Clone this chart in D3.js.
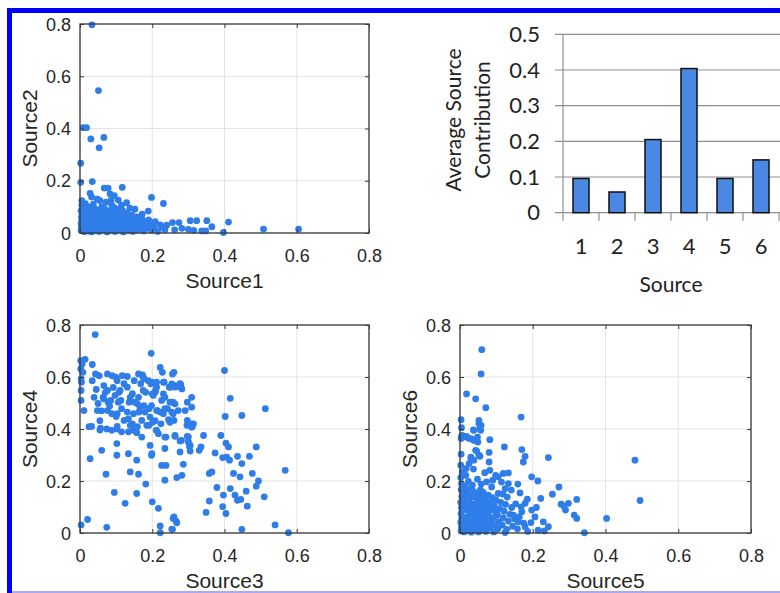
<!DOCTYPE html>
<html>
<head>
<meta charset="utf-8">
<script src="https://cdn.jsdelivr.net/npm/d3@7"></script>
<style>
  html, body { margin: 0; padding: 0; background: #fff; }
  svg { display: block; }
</style>
</head>
<body>
<svg id="fig" width="780" height="593"></svg>
<script>
// ---- data -------------------------------------------------------------
const scatterTicks = [0, 0.2, 0.4, 0.6, 0.8];
const scatterTickLabels = ["0", "0.2", "0.4", "0.6", "0.8"];

const barSources = ["1", "2", "3", "4", "5", "6"];
const barValues = [0.096, 0.058, 0.205, 0.404, 0.096, 0.148];
const barTicks = [0, 0.1, 0.2, 0.3, 0.4, 0.5];
const barTickLabels = ["0", "0.1", "0.2", "0.3", "0.4", "0.5"];

// sample pairs [Source1, Source2]
const pairs12 = [
  [0.033,0.797],[0.051,0.545],[0.009,0.403],[0.018,0.403],[0.030,0.360],[0.066,0.366],[0.053,0.326],
  [0.002,0.267],[0.002,0.194],[0.034,0.197],[0.067,0.172],[0.078,0.172],[0.117,0.175],
  [0.028,0.152],[0.032,0.138],[0.055,0.124],[0.095,0.143],[0.106,0.126],[0.129,0.116],
  [0.005,0.124],[0.005,0.107],[0.198,0.136],[0.231,0.113],[0.152,0.091],[0.189,0.084],
  [0.086,0.126],[0.088,0.107],[0.115,0.107],
  [0.256,0.040],[0.274,0.040],[0.305,0.047],[0.323,0.047],[0.351,0.047],[0.411,0.042],
  [0.282,0.018],[0.300,0.014],[0.337,0.008],[0.348,0.008],[0.365,0.024],[0.397,0.002],
  [0.508,0.015],[0.605,0.015],
  [0.208,0.043],[0.222,0.031],[0.235,0.012],[0.171,0.056],[0.180,0.043],[0.162,0.031],[0.185,0.018],[0.198,0.011],
  [0.003,0.010],[0.004,0.022],[0.003,0.036],[0.005,0.048],[0.004,0.060],[0.006,0.072],[0.003,0.085],[0.007,0.094],
  [0.012,0.005],[0.014,0.018],[0.011,0.030],[0.016,0.042],[0.013,0.055],[0.017,0.066],[0.012,0.080],[0.018,0.090],[0.015,0.112],
  [0.022,0.008],[0.024,0.020],[0.021,0.034],[0.026,0.046],[0.023,0.058],[0.027,0.070],[0.025,0.084],[0.029,0.100],
  [0.032,0.004],[0.034,0.016],[0.031,0.028],[0.036,0.040],[0.033,0.052],[0.038,0.064],[0.035,0.078],[0.040,0.092],[0.037,0.110],
  [0.043,0.010],[0.045,0.024],[0.042,0.036],[0.047,0.050],[0.044,0.062],[0.049,0.074],[0.046,0.088],[0.048,0.130],
  [0.053,0.006],[0.055,0.018],[0.052,0.032],[0.057,0.044],[0.054,0.056],[0.059,0.068],[0.056,0.082],[0.060,0.100],
  [0.064,0.012],[0.066,0.026],[0.063,0.038],[0.068,0.052],[0.065,0.064],[0.070,0.078],[0.067,0.094],[0.072,0.118],
  [0.075,0.004],[0.077,0.016],[0.074,0.030],[0.079,0.042],[0.076,0.056],[0.081,0.070],[0.078,0.086],[0.083,0.150],
  [0.086,0.010],[0.088,0.024],[0.085,0.036],[0.090,0.050],[0.087,0.062],[0.092,0.080],[0.094,0.098],
  [0.097,0.006],[0.099,0.018],[0.096,0.032],[0.101,0.044],[0.098,0.058],[0.103,0.072],[0.105,0.090],
  [0.108,0.012],[0.110,0.026],[0.107,0.040],[0.112,0.054],[0.114,0.068],[0.118,0.086],
  [0.120,0.004],[0.122,0.018],[0.119,0.032],[0.124,0.046],[0.126,0.060],[0.130,0.076],
  [0.132,0.010],[0.134,0.024],[0.137,0.038],[0.140,0.052],[0.144,0.068],[0.138,0.095],
  [0.146,0.006],[0.148,0.020],[0.151,0.034],[0.155,0.048],[0.158,0.062],
  [0.160,0.012],[0.164,0.024],[0.168,0.040],[0.172,0.072],[0.176,0.008],[0.180,0.028],
  [0.190,0.050],[0.195,0.030],[0.205,0.020],[0.215,0.006],[0.228,0.022],[0.240,0.030],[0.262,0.012],[0.315,0.010]
];

// sample pairs [Source3, Source4]
const pairs34 = [
  [0.042,0.763],[0.197,0.691],[0.400,0.625],
  [0.002,0.663],[0.006,0.650],[0.014,0.668],[0.002,0.631],[0.008,0.618],[0.003,0.593],[0.004,0.580],[0.003,0.548],[0.003,0.510],[0.034,0.648],[0.011,0.471],
  [0.032,0.410],[0.055,0.396],[0.074,0.400],[0.088,0.395],[0.102,0.400],[0.115,0.389],[0.134,0.389],[0.148,0.395],
  [0.028,0.286],[0.060,0.318],[0.102,0.344],[0.102,0.299],[0.134,0.305],[0.157,0.280],[0.072,0.226],[0.139,0.235],[0.162,0.226],
  [0.182,0.188],[0.095,0.156],[0.157,0.152],[0.125,0.114],[0.200,0.120],[0.217,0.095],
  [0.003,0.031],[0.021,0.052],[0.074,0.022],[0.222,0.027],[0.222,0.001],[0.256,0.014],[0.258,0.056],[0.268,0.039],
  [0.448,0.014],[0.540,0.031],[0.577,0.001],[0.568,0.241],[0.513,0.478],[0.416,0.518],[0.402,0.448],[0.448,0.452],
  [0.390,0.375],[0.404,0.346],[0.411,0.331],[0.406,0.292],[0.414,0.280],[0.395,0.290],[0.436,0.295],[0.469,0.295],
  [0.488,0.331],[0.448,0.267],[0.358,0.229],[0.365,0.235],[0.425,0.229],[0.443,0.216],[0.477,0.229],[0.494,0.200],
  [0.488,0.180],[0.379,0.175],[0.416,0.171],[0.397,0.146],[0.429,0.146],[0.436,0.126],[0.445,0.129],[0.460,0.161],
  [0.510,0.139],[0.463,0.103],[0.358,0.123],[0.395,0.101],[0.404,0.075],[0.349,0.079],
  [0.254,0.015],[0.260,0.062],[0.266,0.046],[0.235,0.203],[0.268,0.213],[0.282,0.222],[0.226,0.260],[0.238,0.260],
  [0.286,0.264],[0.199,0.305],[0.235,0.325],[0.277,0.312],[0.305,0.315],[0.330,0.318],[0.335,0.331],[0.374,0.308],
  [0.277,0.354],[0.297,0.372],[0.300,0.350],[0.303,0.333],[0.342,0.375],[0.263,0.375],[0.238,0.369],[0.211,0.395],
  [0.217,0.382],[0.296,0.414],[0.309,0.420],[0.201,0.426],[0.208,0.432],[0.249,0.426],[0.245,0.436],[0.309,0.522],
  [0.297,0.503],[0.309,0.484],[0.291,0.471],[0.272,0.471],[0.249,0.561],[0.263,0.567],[0.279,0.571],[0.282,0.554],
  [0.231,0.535],[0.235,0.522],[0.257,0.503],[0.263,0.497],[0.208,0.541],[0.212,0.561],[0.199,0.580],[0.222,0.465],
  [0.231,0.459],[0.254,0.465],
  [0.222,0.637],[0.228,0.618],[0.256,0.612],[0.260,0.618],[0.173,0.608],[0.177,0.593],[0.043,0.612],[0.053,0.605],
  [0.076,0.612],[0.089,0.605],[0.099,0.599],[0.117,0.605],[0.131,0.602],[0.150,0.586],[0.034,0.586],[0.066,0.567],
  [0.076,0.548],[0.103,0.586],[0.122,0.574],[0.131,0.561],[0.108,0.541],[0.145,0.536],[0.168,0.574],[0.196,0.574],
  [0.209,0.548],[0.182,0.541],[0.200,0.535],[0.233,0.580],[0.247,0.561],[0.279,0.561],[0.277,0.574],[0.039,0.522],
  [0.066,0.516],[0.085,0.510],[0.113,0.510],[0.136,0.503],[0.159,0.497],[0.177,0.490],[0.048,0.471],[0.076,0.471],
  [0.103,0.459],[0.131,0.465],[0.163,0.465],[0.191,0.478],[0.214,0.471],[0.242,0.478],[0.025,0.409],[0.057,0.403],
  [0.103,0.410],[0.122,0.433],[0.145,0.420],[0.159,0.409],[0.191,0.414],[0.224,0.420],[0.260,0.433],[0.297,0.433],
  [0.311,0.410],
  [0.162,0.612],[0.175,0.599],[0.189,0.586],[0.212,0.580],[0.231,0.580],[0.254,0.573],[0.263,0.561],
  [0.111,0.548],[0.139,0.522],[0.152,0.503],[0.166,0.484],[0.180,0.465],[0.194,0.446],[0.148,0.459],[0.134,0.439],
  [0.171,0.433],[0.185,0.414],[0.198,0.490],[0.212,0.471],[0.115,0.478],[0.106,0.503],[0.097,0.529],[0.078,0.503],
  [0.064,0.522],[0.088,0.459],[0.162,0.522],[0.175,0.548],[0.203,0.529],[0.226,0.510],[0.235,0.478],[0.249,0.503],
  [0.258,0.459],[0.139,0.414],[0.157,0.386],[0.171,0.369],[0.194,0.337],[0.198,0.299],[0.212,0.395],[0.235,0.369],
  [0.263,0.372],[0.281,0.356],[0.300,0.369],[0.305,0.337],[0.309,0.407],[0.314,0.420],
  [0.045,0.552],[0.050,0.498],[0.060,0.470],[0.070,0.540],[0.082,0.488],[0.092,0.560],[0.100,0.448],[0.055,0.432]
];

// sample pairs [Source5, Source6]
const pairs56 = [
  [0.060,0.705],[0.058,0.612],[0.018,0.535],[0.043,0.516],[0.071,0.482],[0.168,0.446],
  [0.003,0.436],[0.004,0.405],[0.004,0.372],[0.003,0.363],
  [0.052,0.433],[0.058,0.414],[0.055,0.401],[0.037,0.397],
  [0.018,0.372],[0.030,0.363],[0.049,0.350],[0.082,0.359],[0.122,0.331],
  [0.170,0.321],[0.179,0.295],[0.174,0.273],[0.243,0.290],[0.481,0.280],[0.495,0.125],
  [0.003,0.303],[0.030,0.292],[0.055,0.295],[0.046,0.315],[0.080,0.310],[0.080,0.273],
  [0.197,0.216],[0.214,0.200],[0.133,0.231],[0.159,0.188],[0.165,0.154],[0.272,0.177],[0.254,0.149],[0.321,0.129],
  [0.278,0.111],[0.290,0.088],[0.298,0.114],[0.314,0.069],[0.321,0.056],[0.403,0.056],[0.342,0.001],
  [0.006,0.375],[0.016,0.369],[0.025,0.363],[0.038,0.356],[0.048,0.369],[0.057,0.395],[0.052,0.420],[0.038,0.395],
  [0.043,0.318],[0.052,0.299],[0.038,0.280],
  [0.002,0.261],[0.006,0.235],[0.016,0.222],[0.030,0.286],[0.025,0.267],
  [0.222,0.133],[0.286,0.103],
  [0.082,0.241],[0.105,0.216],[0.119,0.229],[0.133,0.190],[0.124,0.171],[0.105,0.152],[0.087,0.177],[0.073,0.197],
  [0.179,0.114],[0.197,0.088],[0.206,0.062],[0.229,0.043],[0.243,0.024],[0.215,0.011],[0.179,0.024],[0.160,0.043],
  [0.147,0.069],[0.170,0.082],[0.124,0.002],[0.232,0.008],[0.186,0.006],[0.195,0.040],[0.210,0.098],[0.185,0.130],
  [0.003,0.008],[0.004,0.024],[0.002,0.041],[0.005,0.057],[0.003,0.075],[0.004,0.098],[0.002,0.118],[0.005,0.141],[0.003,0.166],[0.004,0.190],[0.002,0.213],
  [0.011,0.004],[0.014,0.020],[0.010,0.036],[0.015,0.060],[0.012,0.088],[0.016,0.108],[0.011,0.130],[0.015,0.157],[0.013,0.180],[0.017,0.248],
  [0.021,0.012],[0.024,0.030],[0.020,0.050],[0.026,0.072],[0.022,0.096],[0.025,0.120],[0.021,0.146],[0.027,0.170],[0.023,0.198],
  [0.031,0.003],[0.034,0.022],[0.030,0.044],[0.036,0.066],[0.033,0.086],[0.035,0.110],[0.031,0.137],[0.037,0.160],[0.034,0.184],[0.037,0.246],
  [0.041,0.014],[0.045,0.036],[0.042,0.058],[0.046,0.080],[0.043,0.104],[0.047,0.128],[0.044,0.152],[0.048,0.207],
  [0.051,0.004],[0.054,0.026],[0.050,0.048],[0.056,0.070],[0.053,0.094],[0.057,0.118],[0.052,0.143],[0.056,0.166],[0.058,0.188],
  [0.061,0.016],[0.065,0.038],[0.062,0.060],[0.066,0.084],[0.063,0.109],[0.067,0.134],[0.064,0.156],[0.068,0.232],
  [0.071,0.006],[0.074,0.028],[0.070,0.050],[0.076,0.074],[0.072,0.098],[0.075,0.122],[0.078,0.146],
  [0.082,0.018],[0.085,0.042],[0.081,0.064],[0.087,0.090],[0.083,0.113],[0.089,0.136],[0.090,0.203],
  [0.093,0.004],[0.096,0.030],[0.092,0.056],[0.098,0.080],[0.094,0.104],[0.099,0.126],[0.098,0.222],
  [0.104,0.016],[0.107,0.044],[0.103,0.070],[0.109,0.094],[0.112,0.118],[0.114,0.196],
  [0.116,0.030],[0.119,0.058],[0.121,0.084],[0.125,0.110],[0.118,0.150],[0.130,0.138],
  [0.129,0.014],[0.133,0.046],[0.137,0.072],[0.142,0.098],[0.141,0.165],
  [0.145,0.026],[0.150,0.054],[0.153,0.112],[0.158,0.016],[0.163,0.062],[0.168,0.100],[0.175,0.038]
];

// ---- drawing -----------------------------------------------------------
const svg = d3.select("#fig");
const dotColor = "#2f7de8";
const axisColor = "#3a3a3a";
const gridColor = "#e3e3e3";
const scatterFont = "'Liberation Sans', Arial, Helvetica, sans-serif";
const barFont = "Lato, 'Open Sans', sans-serif";

svg.append("rect").attr("width", 780).attr("height", 593).attr("fill", "#fff");

// page frame
svg.append("rect").attr("x", 7).attr("y", 8).attr("width", 773).attr("height", 5).attr("fill", "#0000ff");
svg.append("rect").attr("x", 7).attr("y", 8).attr("width", 5).attr("height", 585).attr("fill", "#0000ff");
svg.append("rect").attr("x", 12).attr("y", 591).attr("width", 768).attr("height", 2).attr("fill", "#a9a9f6");

function scatterPanel(pairs, box, xLabel, yLabel) {
  const g = svg.append("g");
  const x = d3.scaleLinear().domain([0, 0.8]).range([box.x0, box.x1]);
  const y = d3.scaleLinear().domain([0, 0.8]).range([box.y1, box.y0]);
  const fmt = (d, i) => scatterTickLabels[i];

  // grid
  g.append("g").selectAll("line").data(scatterTicks).join("line")
    .attr("x1", d => x(d)).attr("x2", d => x(d))
    .attr("y1", box.y0).attr("y2", box.y1)
    .attr("stroke", gridColor).attr("stroke-width", 1);
  g.append("g").selectAll("line").data(scatterTicks).join("line")
    .attr("x1", box.x0).attr("x2", box.x1)
    .attr("y1", d => y(d)).attr("y2", d => y(d))
    .attr("stroke", gridColor).attr("stroke-width", 1);

  // points
  g.append("g").selectAll("circle").data(pairs).join("circle")
    .attr("cx", d => x(d[0])).attr("cy", d => y(d[1]))
    .attr("r", 3.4).attr("fill", dotColor);

  // axes, ticks pointing inward on all four sides
  const styleAxis = sel => {
    sel.select(".domain").remove();
    sel.selectAll("line").attr("stroke", axisColor);
    sel.selectAll("text").attr("fill", "#262626")
      .style("font-family", scatterFont).style("font-size", "18px");
  };
  g.append("g").attr("transform", `translate(0,${box.y1})`)
    .call(d3.axisBottom(x).tickValues(scatterTicks).tickFormat(fmt).tickSize(-4).tickPadding(16))
    .call(styleAxis);
  g.append("g").attr("transform", `translate(${box.x0},0)`)
    .call(d3.axisLeft(y).tickValues(scatterTicks).tickFormat(fmt).tickSize(-4).tickPadding(9))
    .call(styleAxis);
  g.append("g").attr("transform", `translate(0,${box.y0})`)
    .call(d3.axisTop(x).tickValues(scatterTicks).tickFormat("").tickSize(-4))
    .call(styleAxis);
  g.append("g").attr("transform", `translate(${box.x1},0)`)
    .call(d3.axisRight(y).tickValues(scatterTicks).tickFormat("").tickSize(-4))
    .call(styleAxis);
  g.selectAll(".tick text").attr("dy", function () {
    return d3.select(this.parentNode.parentNode).attr("transform").startsWith("translate(0") ? "0.71em" : "0.34em";
  });

  // box
  g.append("rect")
    .attr("x", box.x0).attr("y", box.y0)
    .attr("width", box.x1 - box.x0).attr("height", box.y1 - box.y0)
    .attr("fill", "none").attr("stroke", axisColor).attr("stroke-width", 1.3);

  // labels
  g.append("text")
    .attr("x", (box.x0 + box.x1) / 2).attr("y", box.y1 + 55)
    .attr("text-anchor", "middle").attr("fill", "#262626")
    .style("font-family", scatterFont).style("font-size", "21px")
    .text(xLabel);
  g.append("text")
    .attr("transform", `translate(${box.x0 - 43},${(box.y0 + box.y1) / 2}) rotate(-90)`)
    .attr("text-anchor", "middle").attr("fill", "#262626")
    .style("font-family", scatterFont).style("font-size", "21px")
    .text(yLabel);
}

scatterPanel(pairs12, { x0: 80, x1: 369, y0: 24, y1: 233 }, "Source1", "Source2");
scatterPanel(pairs34, { x0: 80, x1: 369, y0: 325, y1: 533 }, "Source3", "Source4");
scatterPanel(pairs56, { x0: 460, x1: 751, y0: 325, y1: 533 }, "Source5", "Source6");

// bar chart of average contributions
(function barPanel() {
  const g = svg.append("g");
  const left = 563, right = 779, bottom = 212.7, top = 34.3;
  const x = d3.scaleBand().domain(barSources).range([left, right])
    .paddingInner(0.555).paddingOuter(0.2775);
  const y = d3.scaleLinear().domain([0, 0.5]).range([bottom, top]);
  const lineColor = "#8f8f8f";

  // horizontal gridlines with outward tick stubs
  g.append("g").selectAll("line").data(barTicks).join("line")
    .attr("x1", left - 8).attr("x2", 780)
    .attr("y1", d => y(d)).attr("y2", d => y(d))
    .attr("stroke", lineColor).attr("stroke-width", 1.2);
  // vertical axis
  g.append("line").attr("x1", left).attr("x2", left).attr("y1", top).attr("y2", bottom)
    .attr("stroke", lineColor).attr("stroke-width", 1.2);
  // category boundary ticks
  const bounds = barSources.map(d => x(d) + x.bandwidth() / 2 - x.step() / 2)
    .concat([x(barSources[barSources.length - 1]) + x.bandwidth() / 2 + x.step() / 2]);
  g.append("g").selectAll("line").data(bounds).join("line")
    .attr("x1", d => d).attr("x2", d => d).attr("y1", bottom).attr("y2", bottom + 8)
    .attr("stroke", lineColor).attr("stroke-width", 1.2);

  // bars
  g.append("g").selectAll("rect").data(barValues).join("rect")
    .attr("x", (d, i) => x(barSources[i])).attr("width", x.bandwidth())
    .attr("y", d => y(d)).attr("height", d => bottom - y(d))
    .attr("fill", "#4a88e4").attr("stroke", "#111").attr("stroke-width", 1.5);

  // tick labels
  const yAx = g.append("g").attr("transform", `translate(${left},0)`)
    .call(d3.axisLeft(y).tickValues(barTicks).tickFormat((d, i) => barTickLabels[i]).tickSize(8).tickPadding(15));
  yAx.select(".domain").remove();
  yAx.selectAll("line").remove();
  yAx.selectAll("text").attr("fill", "#222").style("font-family", barFont).style("font-size", "22px");

  const xAx = g.append("g").attr("transform", `translate(0,${bottom})`)
    .call(d3.axisBottom(x).tickSize(0).tickPadding(26));
  xAx.select(".domain").remove();
  xAx.selectAll("text").attr("fill", "#222").style("font-family", barFont).style("font-size", "22px");

  g.append("text").attr("x", (left + right) / 2).attr("y", 292)
    .attr("text-anchor", "middle").attr("fill", "#222")
    .style("font-family", barFont).style("font-size", "21px").text("Source");
  g.append("text").attr("transform", "translate(461,120) rotate(-90)")
    .attr("text-anchor", "middle").attr("fill", "#222")
    .style("font-family", barFont).style("font-size", "21px").text("Average Source");
  g.append("text").attr("transform", "translate(490,120) rotate(-90)")
    .attr("text-anchor", "middle").attr("fill", "#222")
    .style("font-family", barFont).style("font-size", "21px").text("Contribution");
})();
</script>
</body>
</html>
